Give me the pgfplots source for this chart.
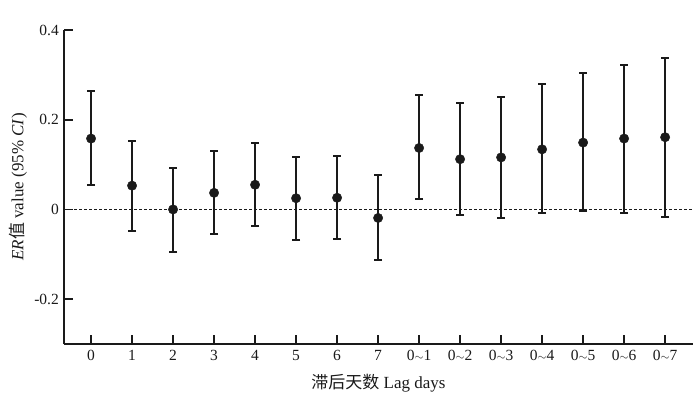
\documentclass[border=0pt]{standalone}
\usepackage{pgfplots}
\pgfplotsset{compat=1.18}
\usepackage{fontspec}
\setmainfont{Liberation Serif}
\newfontfamily\cjk{Noto Sans CJK SC}
\definecolor{ink}{HTML}{1A1A1A}
\pgfplotstableread{
x y ep em
0 0.158 0.105 0.104
1 0.053 0.099 0.100
2 0.000 0.093 0.094
3 0.037 0.093 0.092
4 0.055 0.092 0.092
5 0.025 0.092 0.093
6 0.026 0.093 0.093
7 -0.019 0.095 0.094
8 0.137 0.117 0.114
9 0.112 0.125 0.125
10 0.116 0.135 0.136
11 0.134 0.145 0.143
12 0.149 0.156 0.153
13 0.158 0.165 0.165
14 0.161 0.176 0.177
}\er
\begin{document}
\fontsize{15bp}{18bp}\selectfont
\begin{tikzpicture}
\begin{axis}[
  scale only axis,
  width=629bp, height=314bp,
  xmin=-0.66, xmax=14.68,
  ymin=-0.3, ymax=0.4,
  axis lines*=left,
  axis line style={line width=1.8bp, ink},
  tick style={line width=1.8bp, ink},
  tick align=inside,
  major tick length=9bp,
  xtick={0,...,14},
  xticklabels={0,1,2,3,4,5,6,7,0{\scalebox{0.8}{$\sim$}}1,0{\scalebox{0.8}{$\sim$}}2,0{\scalebox{0.8}{$\sim$}}3,0{\scalebox{0.8}{$\sim$}}4,0{\scalebox{0.8}{$\sim$}}5,0{\scalebox{0.8}{$\sim$}}6,0{\scalebox{0.8}{$\sim$}}7},
  ytick={-0.2,0,0.2,0.4},
  yticklabels={-0.2,0,0.2,0.4},
  tick label style={font=\fontsize{15.5bp}{18bp}\selectfont, text=ink},
  xticklabel style={yshift=-1bp},
  xlabel={{\cjk 滞后天数} Lag days},
  ylabel={\textit{ER}{\cjk 值} value (95\% \textit{CI})},
  label style={font=\fontsize{17bp}{20bp}\selectfont, text=ink},
  xlabel style={at={(axis description cs:0.5,-0.124)}, anchor=center},
  ylabel style={at={(axis description cs:-0.073,0.5)}, anchor=center},
  clip=false,
]
\coordinate (o) at (rel axis cs:0,0);
\addplot[ink, line width=1bp, dash pattern=on 3bp off 2bp] coordinates {(-0.66,0) (14.68,0)};
\addplot[only marks, ink, mark=*, mark size=4.7bp,
  error bars/.cd, y dir=both, y explicit,
  error mark=-,
  error bar style={line width=2bp, ink},
  error mark options={rotate=90, line width=2bp, mark size=4bp, ink}]
  table[x=x, y=y, y error plus=ep, y error minus=em]{\er};
\end{axis}
\path (o) ++(-64bp,-66bp) rectangle ++(700bp,410bp);
\end{tikzpicture}
\end{document}
